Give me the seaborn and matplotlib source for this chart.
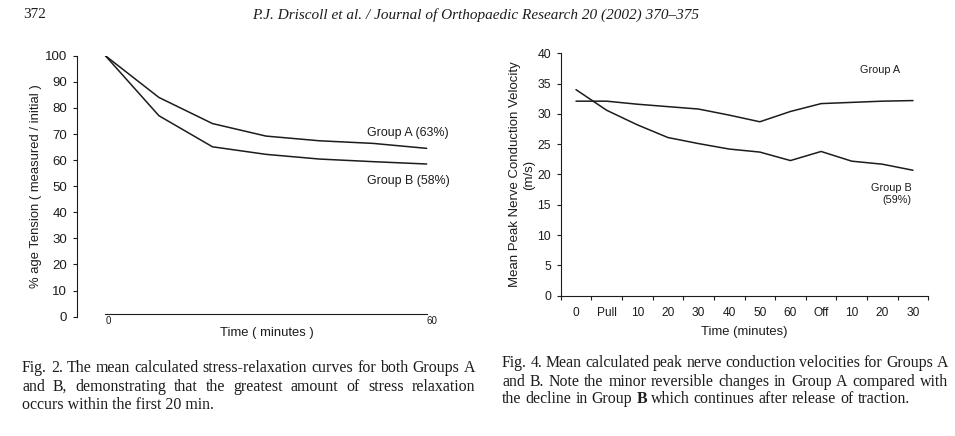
import numpy as np
import seaborn as sns
import matplotlib.pyplot as plt
import pandas as pd

# Fig. 2 - stress relaxation
relax_time = [0, 10, 20, 30, 40, 50, 60]
relax_a = [100, 84, 74, 69.2, 67.4, 66.4, 64.5]
relax_b = [100, 77, 65.1, 62.2, 60.4, 59.4, 58.5]

# Fig. 4 - nerve conduction velocity
ncv_labels = ['0', 'Pull', '10', '20', '30', '40', '50', '60', 'Off', '10', '20', '30']
ncv_a = [32.1, 32.1, 31.6, 31.2, 30.8, 29.8, 28.7, 30.4, 31.7, 31.9, 32.1, 32.2]
ncv_b = [34.0, 30.6, 28.2, 26.1, 25.1, 24.2, 23.7, 22.3, 23.8, 22.2, 21.7, 20.7]

sns.set_style('ticks')
plt.rcParams['font.family'] = ['Liberation Sans', 'DejaVu Sans']
ink = '#1c1c1c'

fig = plt.figure(figsize=(9.55, 4.36), dpi=100)
W, H = 955, 436

def frac(x0, y0, x1, y1):
    return [x0 / W, 1 - y1 / H, (x1 - x0) / W, (y1 - y0) / H]

# ---- left chart
ax1 = fig.add_axes(frac(77, 55.7, 432, 316.7))
df1 = pd.DataFrame({'t': relax_time * 2,
                    'v': relax_a + relax_b,
                    'g': ['A'] * len(relax_time) + ['B'] * len(relax_time)})
sns.lineplot(data=df1, x='t', y='v', units='g', estimator=None,
             color=ink, lw=1.1, ax=ax1)
ax1.set_xlim(-5.3, 61)
ax1.set_ylim(0, 100)
ax1.set_yticks(range(0, 101, 10))
ax1.set_xticks([0, 60])
ax1.spines['top'].set_visible(False)
ax1.spines['right'].set_visible(False)
ax1.spines['bottom'].set_bounds(0, 60)
ax1.spines['bottom'].set_position(('data', 0.9))
ax1.tick_params(axis='y', length=3, width=0.8, pad=4, labelsize=9.5, colors=ink)
ax1.tick_params(axis='x', length=0, pad=1.5, labelsize=7, colors=ink)
for lab in ax1.get_xticklabels():
    lab.set_ha('left')
ax1.set_xlabel('Time ( minutes )', fontsize=9.4, color=ink, va='center')
ax1.xaxis.set_label_coords(0.535, -0.062)
ax1.set_ylabel('% age Tension ( measured / initial )', fontsize=9.4, color=ink)
ax1.yaxis.set_label_coords(-0.099, 0.5)
ax1.text(48.8, 70.4, 'Group A (63%)', fontsize=8.9, color=ink, va='center')
ax1.text(48.8, 52.0, 'Group B (58%)', fontsize=8.9, color=ink, va='center')

# ---- right chart
ax2 = fig.add_axes(frac(560.7, 53.3, 928.3, 295.7))
pos = np.arange(len(ncv_labels))
df2 = pd.DataFrame({'pos': np.concatenate([pos, pos]),
                    'v': ncv_a + ncv_b,
                    'g': ['A'] * len(pos) + ['B'] * len(pos)})
sns.lineplot(data=df2, x='pos', y='v', units='g', estimator=None,
             color=ink, lw=1.1, ax=ax2)
ax2.set_xlim(-0.5, len(pos) - 0.5)
ax2.set_ylim(0, 40)
ax2.set_yticks(range(0, 41, 5))
ax2.set_xticks(pos)
ax2.set_xticklabels(ncv_labels)
ax2.set_xticks(np.arange(-0.5, len(pos), 1), minor=True)
ax2.spines['top'].set_visible(False)
ax2.spines['right'].set_visible(False)
ax2.tick_params(axis='y', length=3, width=0.8, pad=4, labelsize=8.8, colors=ink)
ax2.tick_params(axis='x', which='major', length=0, pad=8, labelsize=8.6, colors=ink)
ax2.tick_params(axis='x', which='minor', length=3, width=0.8, colors=ink)
ax2.set_xlabel('Time (minutes)', fontsize=9.4, color=ink, va='center')
ax2.xaxis.set_label_coords(0.499, -0.148)
ax2.set_ylabel('Mean Peak Nerve Conduction Velocity\n(m/s)', fontsize=9.5, color=ink)
ax2.yaxis.set_label_coords(-0.07, 0.5)
ax2.text(10.57, 37.2, 'Group A', fontsize=7.8, color=ink, ha='right', va='center')
ax2.text(10.96, 16.8, 'Group B\n(59%)', fontsize=7.8, color=ink, ha='right',
         va='center', multialignment='right', linespacing=1.2)
for ax in (ax1, ax2):
    for s in ('left', 'bottom'):
        ax.spines[s].set_color(ink)
        ax.spines[s].set_linewidth(0.8)

# ---- page header and captions
serif = ['Liberation Serif', 'DejaVu Serif']
fig.text(23 / W, 1 - 15 / H, '372', family=serif, fontsize=11, color=ink, va='center')
fig.text(476 / W, 1 - 15 / H,
         'P.J. Driscoll et al. / Journal of Orthopaedic Research 20 (2002) 370\u2013375',
         family=serif, style='italic', fontsize=11, color=ink, ha='center', va='center')

renderer = fig.canvas.get_renderer()

def caption_line(x0, x1, y, line, justify, bold_after=None):
    kw = dict(family=serif, fontsize=11.4, color=ink, va='center')
    words = line.split(' ')
    if not justify and bold_after is None:
        fig.text(x0 / W, 1 - y / H, line, **kw)
        return
    texts = []
    for i, w in enumerate(words):
        bold = bold_after is not None and i > 0 and words[i - 1] == bold_after
        texts.append(fig.text(0, 1 - y / H, w, weight='bold' if bold else 'normal', **kw))
    widths = [t.get_window_extent(renderer).width for t in texts]
    space = fig.text(0, 0, 'a a', **kw).get_window_extent(renderer).width - \
        fig.text(0, 0, 'aa', **kw).get_window_extent(renderer).width
    fig.texts[-2:] = []
    if justify:
        gap = (x1 - x0 - sum(widths)) / (len(words) - 1)
    else:
        gap = space
    x = x0
    for t, w in zip(texts, widths):
        t.set_x(x / W)
        x += w + gap

cap_left = ['Fig. 2. The mean calculated stress-relaxation curves for both Groups A',
            'and B, demonstrating that the greatest amount of stress relaxation',
            'occurs within the first 20 min.']
cap_right = ['Fig. 4. Mean calculated peak nerve conduction velocities for Groups A',
             'and B. Note the minor reversible changes in Group A compared with',
             'the decline in Group B which continues after release of traction.']
for i, (line, y) in enumerate(zip(cap_left, [368.3, 386.7, 405])):
    caption_line(22, 475, y, line, justify=i < 2)
for i, (line, y) in enumerate(zip(cap_right, [362.7, 381.7, 399.3])):
    caption_line(502, 948, y, line, justify=i < 2,
                 bold_after='Group' if i == 2 else None)

fig.savefig('out.png', dpi=100)
